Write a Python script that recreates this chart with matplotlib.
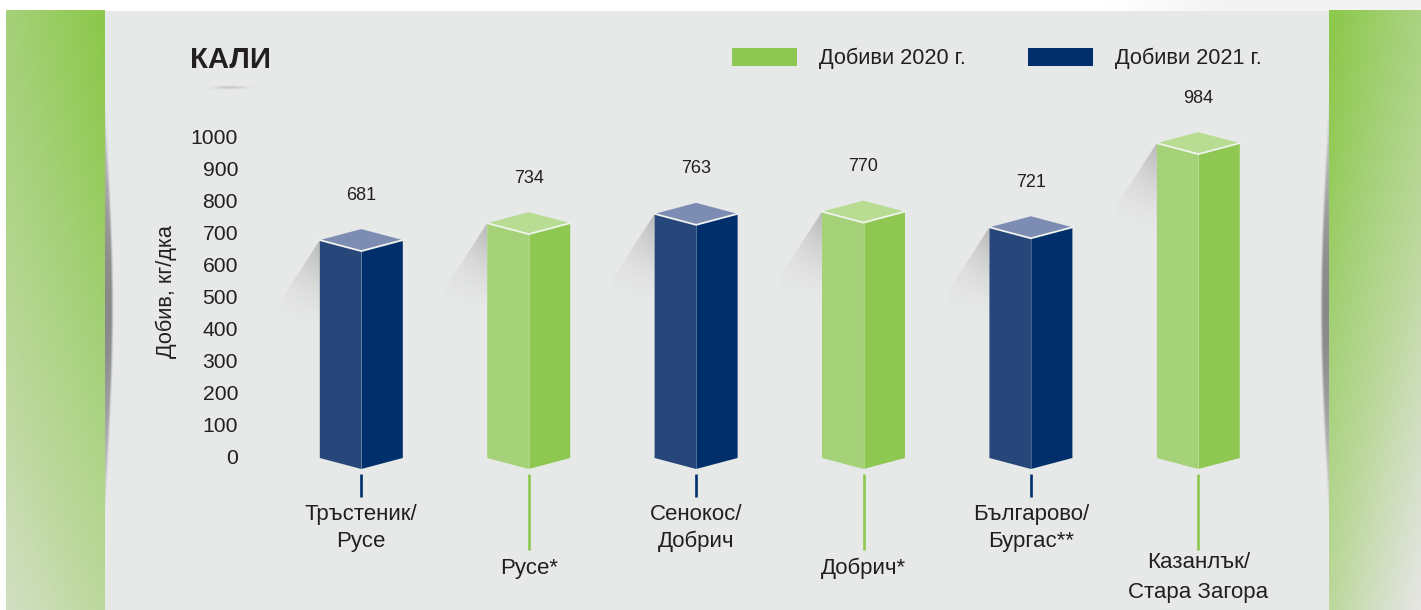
import numpy as np
import matplotlib
matplotlib.use('Agg')
import matplotlib.pyplot as plt
from matplotlib.colors import LinearSegmentedColormap
from matplotlib.patches import Patch, Polygon
from matplotlib.transforms import ScaledTranslation

sites = ['Тръстеник/\nРусе', 'Русе*', 'Сенокос/\nДобрич', 'Добрич*',
         'Българово/\nБургас**', 'Казанлък/\nСтара Загора']
yields = [681, 734, 763, 770, 721, 984]
years = [2021, 2020, 2021, 2020, 2021, 2020]
yticks = list(range(0, 1001, 100))
title = 'КАЛИ'
ylabel = 'Добив, кг/дка'

# left face, right face, top of the bar, stem
colors = {2020: ('#a5d279', '#8ec852', '#b9dc93', '#8ec852'),
          2021: ('#27477b', '#002f6c', '#7d8cb3', '#002f6c')}
legend_labels = {2020: 'Добиви 2020 г.', 2021: 'Добиви 2021 г.'}
panel = '#e7e9e8'
text_col = '#231f20'

W, H = 1421, 610
plt.rcParams['font.family'] = ['Liberation Sans', 'DejaVu Sans']
fig = plt.figure(figsize=(W/100, H/100), dpi=100, facecolor='white')

# background layer in image pixels
bg = fig.add_axes([0, 0, 1, 1], zorder=0)
bg.set_xlim(0, W)
bg.set_ylim(H, 0)
bg.axis('off')


def gradient(ax, extent, img, clip=None, zorder=1):
    im = ax.imshow(img, extent=extent, aspect='auto', interpolation='bilinear',
                   zorder=zorder, origin='upper')
    if clip is not None:
        p = Polygon(clip, transform=ax.transData, fc='none', ec='none')
        ax.add_patch(p)
        im.set_clip_path(p)
    return im


bg.fill_between([105, 1329], 11, H, color=panel, lw=0, zorder=1)

# faint strip in the top right corner
strip = np.ones((1, 60, 4))
strip[..., :3] = 0.955
strip[..., 3] = np.clip(np.linspace(-0.1, 2.5, 60), 0, 1)
gradient(bg, (1090, W, 11, 0), strip)

# green side bands, row 0 is the top of the picture
yy, xx = np.mgrid[0:1:150j, 0:1:60j]
band = LinearSegmentedColormap.from_list('band', ['#8cc84b', '#a6d17a', '#bcd89c', '#d2dfc3', '#e6e6e4'])
gradient(bg, (6, 105, H, 10), band(0.25*(1-xx) + 0.5*yy**1.3))
gradient(bg, (1329, 1421, H, 10), band(xx*(0.3 + 0.2*yy) + 0.5*yy**1.3))

# dark slivers next to the bands
rows = np.linspace(70, 545, 240)
prof = np.sin(np.pi*(rows-70)/475)**1.4
col = np.arange(0, 9, 0.25)
sliver = np.zeros((rows.size, col.size, 4))
sliver[..., :3] = 0.52
sliver[..., 3] = np.clip((np.outer(prof, np.ones(col.size))*8.5 - col)/2.5, 0, 1)*prof[:, None]**0.8*0.95
gradient(bg, (105, 114, 545, 70), sliver, zorder=2)
gradient(bg, (1329, 1320, 545, 70), sliver, zorder=2)

# small shadow under the title
sh = np.zeros((20, 100, 4))
sh[..., :3] = 0.55
v = np.exp(-np.linspace(-2.5, 2.5, 20)**2)
u = np.exp(-np.linspace(-2.2, 2.2, 100)**2)
sh[..., 3] = np.outer(v, u)*0.4
gradient(bg, (198, 262, 91, 84), sh)

# chart layer: y axis spans the 0..1000 tick labels, x in category units
left, right, top, bottom = 245, 1320, 138, 458
x0_px, step = 361.3, 167.4
ax = fig.add_axes([left/W, 1-bottom/H, (right-left)/W, (bottom-top)/H], zorder=1)
ax.patch.set_alpha(0)
ax.set_xlim((left-x0_px)/step, (right-x0_px)/step)
ax.set_ylim(0, 1000)
for s in ax.spines.values():
    s.set_visible(False)
ax.set_xticks([])
ax.set_yticks(yticks)
ax.tick_params(axis='y', length=0, pad=5, labelsize=15.2, labelcolor=text_col)
# tick labels sit a little higher than the bar scale in the original
for lab in ax.get_yticklabels():
    lab.set_transform(lab.get_transform() + ScaledTranslation(0, 1.5/100, fig.dpi_scale_trans))

dx = 1/step                 # one pixel along x
dy = 1000/(bottom-top)      # one pixel along y
hw = 41.5*dx
d = 11*dy

for i, (name, val, yr) in enumerate(zip(sites, yields, years)):
    c_left, c_right, c_top, c_stem = colors[yr]

    # cast shadow behind the bar
    sx0 = i-hw-42*dx
    sy0 = val-90*dy
    shade = np.zeros((80, 40, 4))
    shade[..., :3] = 0.6
    fade_y = np.linspace(1, 0, 80)[:, None]**1.5
    fade_x = (0.3 + 0.7*np.linspace(0, 1, 40))[None, :]
    shade[..., 3] = 0.62*fade_y*fade_x
    gradient(ax, (sx0, i-hw, sy0, val), shade,
             clip=[(i-hw, val), (sx0, val-65*dy), (sx0, sy0), (i-hw, sy0)], zorder=1)

    ax.fill([i-hw, i, i, i-hw], [val, val-d, -d, 0], color=c_left, lw=0, zorder=2, clip_on=False)
    ax.fill([i, i+hw, i+hw, i], [val-d, val, 0, -d], color=c_right, lw=0, zorder=2, clip_on=False)
    ax.fill([i-hw, i, i+hw, i], [val, val+d, val, val-d], color=c_top, lw=0, zorder=2, clip_on=False)
    ax.plot([i-hw, i, i+hw], [val, val-d, val], color='#f0f3ee', lw=1.3, zorder=3,
            solid_joinstyle='miter', clip_on=False)
    ax.plot([i, i], [val-d, -d], color='white', lw=0.5, alpha=0.35, zorder=3, clip_on=False)

    ax.text(i, val+45*dy, str(val), ha='center', va='center', fontsize=13, color=text_col)

    # stems are longer on the 2020 sites so the labels sit lower
    long_stem = yr == 2020
    two_lines = '\n' in name
    stem_end = -(550-bottom if long_stem else 497-bottom)*dy
    ax.plot([i, i], [-(474-bottom)*dy, stem_end], color=c_stem, lw=1.9,
            solid_capstyle='butt', clip_on=False)
    if long_stem:
        pad, spacing = (2.5, 1.52) if two_lines else (8, 1.2)
    else:
        pad, spacing = 7, 1.36
    ax.text(i, stem_end-pad*dy, name, ha='center', va='top', fontsize=16, color=text_col,
            linespacing=spacing, clip_on=False)

ax.set_ylabel(ylabel, fontsize=15.6, color=text_col)
ax.yaxis.set_label_coords((177-left)/(right-left), (bottom-292)/(bottom-top))

fig.text(190/W, 1-60/H, title, fontsize=21.1, fontweight='bold', color=text_col,
         ha='left', va='center')

handles = [Patch(color=colors[y][3], lw=0, label=legend_labels[y]) for y in (2020, 2021)]
fig.legend(handles=handles, loc='upper left', bbox_to_anchor=(732/W, 1-48/H), ncols=2,
           frameon=False, fontsize=15.7, labelcolor=text_col, borderpad=0, borderaxespad=0,
           handlelength=2.98, handleheight=0.87, handletextpad=1.0, columnspacing=2.85)

fig.savefig('out.png', dpi=100)
